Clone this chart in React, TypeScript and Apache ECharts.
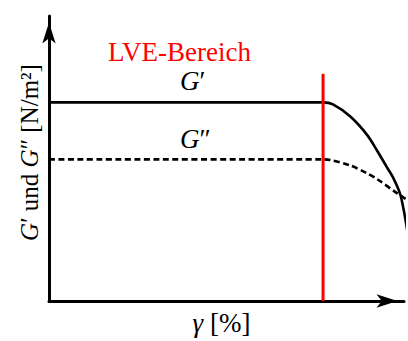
import React, { useEffect, useRef } from "react";
import * as echarts from "echarts";

// Storage modulus G' (x: strain share of axis, y: modulus share of axis)
const gPrimeX = [0, 77.2, 80.0, 84.8, 89.6, 92.4, 95.2, 96.9, 98.9, 100, 101.1];
const gPrimeY = [69.7, 69.7, 69.0, 64.8, 58.3, 52.8, 46.9, 43.4, 37.6, 31.4, 23.4];
// Loss modulus G''
const gDoublePrimeX = [0, 77.2, 79.2, 84.8, 89.6, 92.4, 97.5, 100, 101.1];
const gDoublePrimeY = [49.7, 49.7, 49.5, 47.6, 44.8, 42.8, 38.3, 36.2, 35.3];
// Limit of the linear viscoelastic range
const lveLimitX = [77.2, 77.2];
const lveLimitY = [0, 79.7];

const xLabel = "{i|γ} [%]";
const yLabel = "{i|G}′ und {i|G}″ [N/m²]";
const lveLabel = "LVE-Bereich";
const gPrimeLabel = "{i|G}′";
const gDoublePrimeLabel = "{i|G}″";

const FONT = "Liberation Serif";

const zip = (xs: number[], ys: number[]) => xs.map((x, i) => [x, ys[i]]);

export default function App() {
  const ref = useRef<HTMLDivElement>(null);
  useEffect(() => {
    if (!ref.current) return;
    const chart = echarts.init(ref.current, undefined, { renderer: "svg" });
    const axisLine = {
      show: true,
      symbol: ["none", "arrow"],
      symbolSize: [10, 21],
      symbolOffset: [0, -6.5],
      lineStyle: { color: "#000", width: 3 },
    };
    const rich = {
      i: { fontStyle: "italic", fontFamily: FONT, fontSize: 27, color: "#000" },
    };
    chart.setOption({
      animation: false,
      backgroundColor: "#fff",
      textStyle: { fontFamily: FONT },
      grid: { left: 49, top: 16, right: 4, bottom: 35 },
      xAxis: {
        type: "value",
        min: 0,
        max: 100,
        axisLine,
        axisTick: { show: false },
        axisLabel: { show: false },
        splitLine: { show: false },
        name: xLabel,
        nameLocation: "middle",
        nameGap: 8,
        nameTextStyle: {
          fontFamily: FONT,
          fontSize: 27,
          color: "#000",
          padding: [0, 10, 0, 0],
          rich,
        },
      },
      yAxis: {
        type: "value",
        min: 0,
        max: 100,
        axisLine,
        axisTick: { show: false },
        axisLabel: { show: false },
        splitLine: { show: false },
        name: yLabel,
        nameLocation: "middle",
        nameRotate: 90,
        nameGap: 7,
        nameTextStyle: {
          fontFamily: FONT,
          fontSize: 25,
          color: "#000",
          padding: [0, 0, 0, 12],
          rich: { i: { ...rich.i, fontSize: 25 } },
        },
      },
      series: [
        {
          type: "line",
          data: zip(gPrimeX, gPrimeY),
          showSymbol: false,
          smooth: 0.3,
          clip: false,
          lineStyle: { color: "#000", width: 2.6 },
        },
        {
          type: "line",
          data: zip(gDoublePrimeX, gDoublePrimeY),
          showSymbol: false,
          smooth: 0.3,
          clip: false,
          lineStyle: { color: "#000", width: 2.6, type: [6, 3.5] },
        },
        {
          type: "line",
          data: zip(lveLimitX, lveLimitY),
          showSymbol: false,
          clip: false,
          z: 3,
          lineStyle: { color: "#ff0000", width: 3 },
        },
      ],
      graphic: [
        {
          type: "text",
          x: 108,
          y: 52,
          style: {
            text: lveLabel,
            fontFamily: FONT,
            fontSize: 27,
            fill: "#ff0000",
            align: "left",
            verticalAlign: "middle",
          },
        },
        {
          type: "text",
          x: 180,
          y: 81,
          style: {
            text: gPrimeLabel,
            fontFamily: FONT,
            fontSize: 27,
            fill: "#000",
            align: "left",
            verticalAlign: "middle",
            rich,
          },
        },
        {
          type: "text",
          x: 180,
          y: 139,
          style: {
            text: gDoublePrimeLabel,
            fontFamily: FONT,
            fontSize: 27,
            fill: "#000",
            align: "left",
            verticalAlign: "middle",
            rich,
          },
        },
      ],
    });
    return () => chart.dispose();
  }, []);
  return (
    <div
      ref={ref}
      style={{ position: "absolute", left: 0, top: 0, width: 408, height: 341, background: "#fff" }}
    />
  );
}
